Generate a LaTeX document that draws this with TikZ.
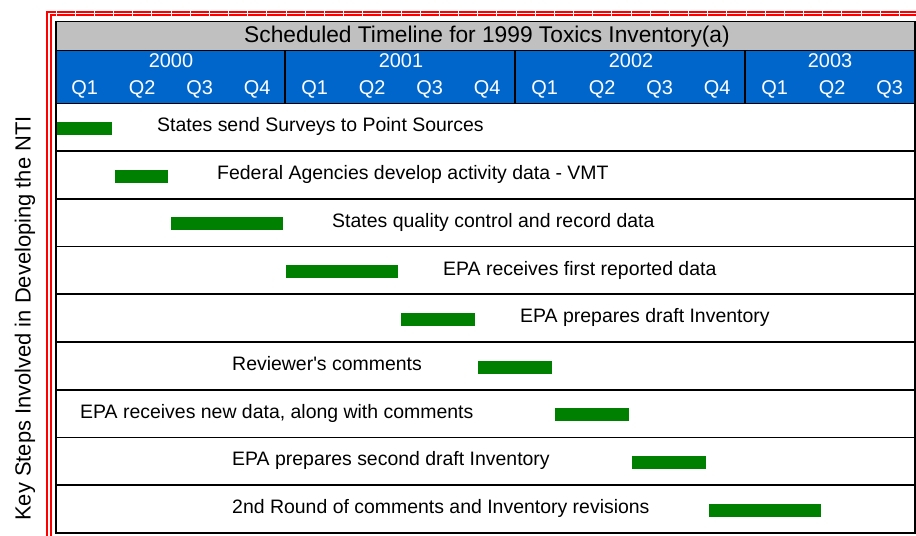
\documentclass[tikz,border=0pt]{standalone}
\usepackage{fontspec}
\setmainfont{Liberation Sans}
\definecolor{hdrblue}{HTML}{0066CC}
\definecolor{hdrgray}{HTML}{C0C0C0}
\definecolor{bargreen}{HTML}{008000}
\definecolor{framered}{HTML}{FF0000}

\begin{document}
\begin{tikzpicture}[x=0.03cm, y=-0.03cm,
    titletext/.style={anchor=base, inner sep=0pt, font=\fontsize{19.4}{22}\selectfont},
    hdrtext/.style={anchor=base, inner sep=0pt, text=white, font=\fontsize{17}{20}\selectfont},
    rowtext/.style={anchor=base west, inner sep=0pt, font=\fontsize{16.6}{19}\selectfont},
    sidetext/.style={anchor=base, inner sep=0pt, rotate=90, font=\fontsize{18.7}{22}\selectfont},
    taskbar/.style={fill=bargreen},
    gridline/.style={line width=1.5pt}]
	%%%%% START %%%%%
	
	\useasboundingbox (0,0) rectangle (916,536);
	
	% red double frame
	\draw[framered, line width=1.4pt] (47,536) -- (47,12.3) -- (916,12.3);
	\draw[framered, line width=1.2pt] (51.2,536) -- (51.2,15.2) -- (916,15.2);
	\foreach \t in {0,...,45}
		\fill[white] ({55.5+19.17*\t},11) rectangle ++(1,5.5);
	
	% header bands
	\fill[hdrgray] (56,21.5) rectangle (915,50.5);
	\fill[hdrblue] (56,50.5) rectangle (915,103.5);
	\node[titletext] (title) at (487,43) {Scheduled Timeline for 1999 Toxics Inventory(a)};
	
	\foreach \yr/\cx [count=\i from 0] in {2000/171, 2001/401, 2002/631, 2003/830}
		\node[hdrtext] (year\i) at (\cx,67.7) {\yr};
	\foreach \q in {0,...,14}{
		\pgfmathtruncatemacro\qn{mod(\q,4)+1}
		\node[hdrtext] (qtr\q) at ({84.75+57.5*\q},95) {Q\qn};
	}
	\foreach \sx in {285,515,745}
		\draw[gridline] (\sx,50.5) -- (\sx,103.5);
	\draw[gridline] (56,50.5) -- (915,50.5);
	\draw[gridline] (56,103.5) -- (915,103.5);
	
	% rows
	\foreach \k in {1,...,8}
		\draw[gridline] (56,{103.5+47.7*\k}) -- (915,{103.5+47.7*\k});
	\draw[gridline] (56,21.5) rectangle (915,533);
	
	\foreach \xs/\xe/\lx/\txt [count=\k from 0] in {
		57/112/157/{States send Surveys to Point Sources},
		115/168/217/{Federal Agencies develop activity data - VMT},
		171/283/332/{States quality control and record data},
		286/398/443/{EPA receives first reported data},
		401/475/520/{EPA prepares draft Inventory},
		478/552/232/{Reviewer\textquotesingle s comments},
		555/629/80/{EPA receives new data, along with comments},
		632/706/232/{EPA prepares second draft Inventory},
		709/821/232/{2nd Round of comments and Inventory revisions}}{
		\fill[taskbar] (\xs,{122+47.7*\k}) rectangle (\xe,{135+47.7*\k});
		\node[rowtext] (task\k) at (\lx,{132+47.7*\k}) {\txt};
	}
	
	\node[sidetext] (steps) at (30.5,318.5) {Key Steps Involved in Developing the NTI};
	
	%%%%% END %%%%%
\end{tikzpicture}
\end{document}
